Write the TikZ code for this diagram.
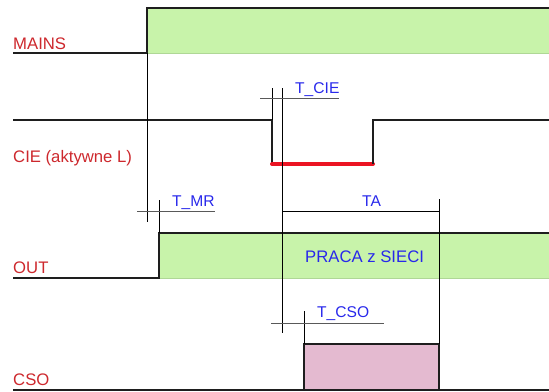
\documentclass[tikz,border=0pt]{standalone}
\usepackage{fontspec}
\setmainfont{Liberation Sans}
\usepackage{tikz}
\usepackage{xcolor}
\definecolor{cSig}{RGB}{30,30,30}
\definecolor{cLab}{RGB}{205,40,45}
\definecolor{cTime}{RGB}{40,40,235}
\definecolor{cOn}{RGB}{200,243,170}
\definecolor{cOnEdge}{RGB}{175,215,150}
\definecolor{cPulse}{RGB}{228,186,208}
\definecolor{cActive}{RGB}{235,20,35}

\begin{document}
\begin{tikzpicture}[x=1pt,y=-1pt,
  sigline/.style={line width=2pt,draw=cSig,line join=miter},
  guide/.style={line width=0.9pt,draw=black},
  tickln/.style={line width=0.9pt,draw=black!65},
  siglab/.style={anchor=base west,inner sep=0pt,text=cLab,font=\fontsize{16.7}{17}\selectfont},
  timelab/.style={anchor=base west,inner sep=0pt,text=cTime,font=\fontsize{15.6}{16}\selectfont}]
  \useasboundingbox (0,0) rectangle (549,391);
  % MAINS
  \fill[cOn] (147,8) rectangle (549,53);
  \draw[cOnEdge,line width=1pt] (148,53) -- (549,53);
  \draw[sigline] (13,53) -- (147,53) -- (147,8) -- (549,8);
  \node[siglab] (mains) at (13,49) {MAINS};
  % CIE (active low)
  \draw[sigline] (13,120) -- (272,120) -- (272,164);
  \draw[cActive,line width=4pt,line cap=round] (272,164) -- (373,164);
  \draw[sigline] (373,164) -- (373,120) -- (549,120);
  \node[siglab] (cie) at (13,162) {CIE (aktywne L)};
  % OUT
  \fill[cOn] (159,233) rectangle (549,278);
  \draw[cOnEdge,line width=1pt] (160,278) -- (549,278);
  \draw[sigline] (13,278) -- (159,278) -- (159,233) -- (549,233);
  \node[siglab] (out) at (13,273) {OUT};
  \node[anchor=base west,inner sep=0pt,text=cTime,font=\fontsize{16.7}{17}\selectfont] (praca) at (305,262) {PRACA z SIECI};
  % CSO
  \filldraw[fill=cPulse,draw=cSig,line width=2pt] (304,390) -- (304,344) -- (439,344) -- (439,390);
  \draw[sigline] (13,390) -- (549,390);
  \node[siglab] (cso) at (13,385) {CSO};
  % Times
  \draw[guide] (147,53) -- (147,222);
  \draw[guide] (159,200) -- (159,233);
  \draw[tickln] (137,211) -- (215,211);
  \node[timelab] (tmr) at (172,206) {T\_MR};
  \draw[guide] (272,88) -- (272,120);
  \draw[guide] (282,88) -- (282,333);
  \draw[tickln] (260,98) -- (339,98);
  \node[timelab] (tcie) at (295,93) {T\_CIE};
  \draw[guide] (282,211) -- (439,211);
  \draw[guide] (439,199) -- (439,344);
  \node[timelab] (ta) at (362,206) {TA};
  \draw[guide] (304,311) -- (304,344);
  \draw[tickln] (271,323) -- (384,323);
  \node[timelab] (tcso) at (317,317) {T\_CSO};
\end{tikzpicture}
\end{document}
